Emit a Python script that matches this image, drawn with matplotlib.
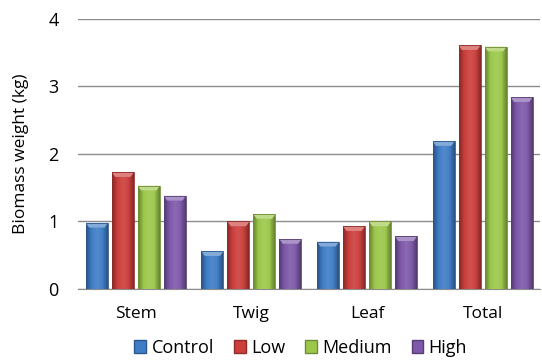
import numpy as np
import matplotlib.pyplot as plt
from matplotlib.colors import LinearSegmentedColormap, to_rgb
from matplotlib.patches import Patch

plt.rcParams['font.family'] = ['Open Sans', 'DejaVu Sans']

categories = ['Stem', 'Twig', 'Leaf', 'Total']
treatments = ['Control', 'Low', 'Medium', 'High']
control = [0.98, 0.56, 0.70, 2.19]
low = [1.73, 1.00, 0.93, 3.61]
medium = [1.53, 1.11, 1.00, 3.59]
high = [1.38, 0.74, 0.78, 2.84]
colors = ['#3F7DC6', '#CC3F3C', '#9CC84A', '#7E59AA']


def shade(c, f):
    r = np.array(to_rgb(c))
    if f < 1:
        return tuple(r * f)
    return tuple(r + (1 - r) * (f - 1))


def gradient_bar(ax, patch, color):
    # horizontal shading: dark edges, lighter body
    x0, y0 = patch.get_x(), patch.get_y()
    w, h = patch.get_width(), patch.get_height()
    cmap = LinearSegmentedColormap.from_list(
        'g', [shade(color, 0.65), shade(color, 1.0), shade(color, 1.1),
              shade(color, 1.02), shade(color, 0.65)])
    grad = np.linspace(0, 1, 64).reshape(1, -1)
    im = ax.imshow(grad, extent=(x0, x0 + w, y0, y0 + h), aspect='auto',
                   cmap=cmap, zorder=3, interpolation='bicubic')
    im.set_clip_path(patch)
    # light bevel on top
    cap = min(0.07, h * 0.3)
    ax.fill([x0, x0 + w, x0 + w * 0.85, x0 + w * 0.15],
            [y0 + h, y0 + h, y0 + h - cap, y0 + h - cap],
            color=shade(color, 1.35), zorder=4, lw=0)


fig, ax = plt.subplots(figsize=(5.42, 3.64), dpi=100)
fig.subplots_adjust(left=0.144, right=0.997, top=0.948, bottom=0.206)

x = np.arange(len(categories))
step, width = 0.225, 0.19
series = [control, low, medium, high]
for i, (vals, c) in enumerate(zip(series, colors)):
    bars = ax.bar(x + (i - 1.5) * step, vals, width, color='none',
                  edgecolor=shade(c, 0.7), linewidth=0.6, zorder=5)
    for b in bars:
        gradient_bar(ax, b, c)

ax.set_xlim(-0.5, 3.5)
ax.set_ylim(0, 4)
ax.set_yticks([0, 1, 2, 3, 4])
ax.set_xticks(x)
ax.set_xticklabels(categories, fontsize=12.5)
ax.tick_params(axis='y', length=0, labelsize=13, pad=14)
ax.tick_params(axis='x', length=0, pad=12)
ax.yaxis.grid(True, color='#8C8C8C', linewidth=1.0, zorder=0)
ax.set_axisbelow(True)
for s in ['top', 'right', 'left']:
    ax.spines[s].set_visible(False)
ax.spines['bottom'].set_color('#8C8C8C')
ax.set_ylabel('Biomass weight (kg)', fontsize=12.5, labelpad=14)

handles = [Patch(facecolor=c, edgecolor=shade(c, 0.7)) for c in colors]
fig.legend(handles, treatments, loc='lower center', ncol=4, frameon=False,
           fontsize=13, handlelength=0.65, handleheight=0.65,
           handletextpad=0.3, columnspacing=1.1,
           bbox_to_anchor=(0.555, -0.025))

fig.savefig('out.png', dpi=100)
